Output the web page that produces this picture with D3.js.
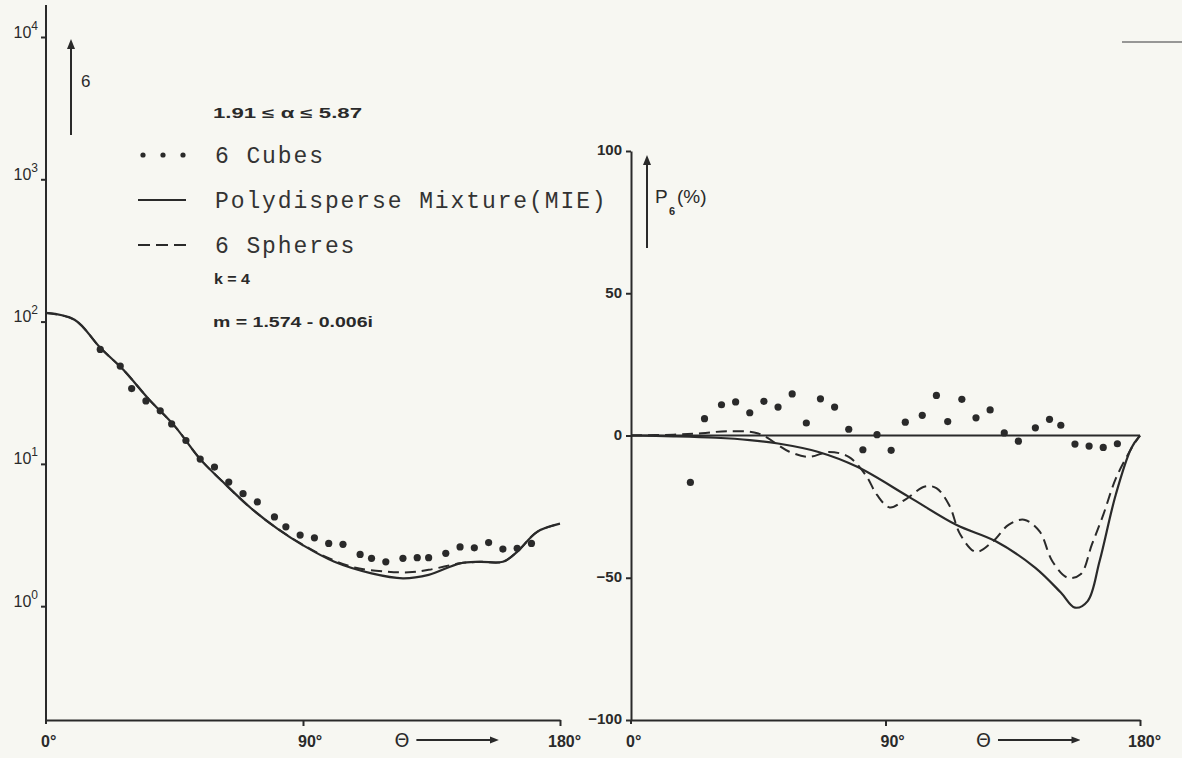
<!DOCTYPE html>
<html>
<head>
<meta charset="utf-8">
<script src="https://cdn.jsdelivr.net/npm/d3@7"></script>
<style>
    body { margin: 0; background: #f7f7f2; }
    svg { display: block; }
</style>
</head>
<body>
<div id="graph"></div>
<script>
// left panel: sigma (log scale) vs scattering angle
var leftMieAngles = [0, 10, 19, 27, 36, 45, 54, 62, 72, 81, 90, 101, 114, 125, 134, 145, 152, 160, 165, 172, 180];
var leftMie = [115, 103, 65.5, 46, 28.5, 18.5, 10.8, 7.45, 4.84, 3.51, 2.68, 2.05, 1.70, 1.57, 1.66, 2.0, 2.05, 2.05, 2.41, 3.33, 3.8];
var leftSphereAngles = [0, 10, 19, 27, 36, 45, 54, 62, 72, 81, 90, 98, 108, 119, 127, 134, 145, 152, 160, 165, 172, 180];
var leftSpheres = [115, 103, 65.5, 46, 28.5, 18.5, 10.8, 7.45, 4.84, 3.51, 2.7, 2.22, 1.87, 1.75, 1.73, 1.80, 2.0, 2.05, 2.05, 2.41, 3.33, 3.8];
var leftCubeAngles = [19, 26, 30, 35, 40, 44, 49, 54, 59, 64, 69, 74, 80, 84, 89, 94, 99, 104, 110, 114, 119, 125, 130, 134, 140, 145, 150, 155, 160, 165, 170];
var leftCubes = [63.7, 48.7, 33.8, 27.7, 23.6, 19.1, 14.6, 10.8, 9.49, 7.45, 6.17, 5.40, 4.24, 3.61, 3.16, 3.02, 2.76, 2.72, 2.31, 2.17, 2.05, 2.17, 2.19, 2.19, 2.35, 2.61, 2.57, 2.80, 2.52, 2.55, 2.76];

// right panel: polarization P (%) vs scattering angle
var rightMieAngles = [0, 15, 30, 42, 52, 66, 80, 98, 115, 129, 143, 152, 157, 161.5, 165.7, 171.4, 176.9, 180];
var rightMie = [0, -0.3, -0.8, -1.6, -2.8, -5.7, -11, -21.4, -31.4, -37.2, -46.5, -55.2, -60.5, -58.2, -44.2, -20.9, -4.5, 0];
var rightSphereAngles = [0, 15, 25, 34, 45, 56, 63, 70, 77, 83, 87, 91.5, 97, 104, 108, 112.5, 116.5, 122, 128, 133.5, 139, 144.5, 149, 154.5, 159, 163, 167, 171.5, 177, 180];
var rightSpheres = [0, 0.3, 0.8, 1.5, 0.7, -5.7, -7.5, -5.8, -7.5, -13.9, -20.9, -25.3, -22.5, -17.9, -18.5, -24.4, -34.9, -40.9, -37.2, -31.4, -29.6, -33.7, -44.2, -50, -48.8, -38.3, -27.9, -15, -4.5, 0];
var rightCubeAngles = [21, 26, 32, 37, 42, 47, 52, 57, 62, 67, 72, 77, 82, 87, 92, 97, 103, 108, 112, 117, 122, 127, 132, 137, 143, 148, 152, 157, 162, 167, 172];
var rightCubes = [-16.5, 5.9, 10.8, 11.8, 8.0, 12.0, 10.0, 14.6, 4.4, 12.9, 10.0, 2.2, -5.0, 0.3, -5.2, 4.7, 7.1, 14.1, 4.9, 12.7, 6.2, 9.0, 0.9, -2.0, 2.7, 5.7, 3.6, -3.0, -3.7, -4.2, -2.9];

var leftTicks = [1, 10, 100, 1000, 10000];
var leftTickExp = ["0", "1", "2", "3", "4"];
var rightTicks = [-100, -50, 0, 50, 100];
var angleTicks = [0, 90, 180];
var angleLabels = ["0°", "90°", "180°"];

var legendLabels = ["6 Cubes", "Polydisperse Mixture(MIE)", "6 Spheres"];

var width = 1182, height = 758;
var ink = "#2a2a2a";

var svg = d3.select("#graph").append("svg")
    .attr("width", width)
    .attr("height", height);

svg.append("rect").attr("width", width).attr("height", height).attr("fill", "#f7f7f2");

var defs = svg.append("defs");
defs.append("marker")
    .attr("id", "head")
    .attr("viewBox", "0 0 10 10")
    .attr("refX", 5).attr("refY", 5)
    .attr("markerWidth", 5).attr("markerHeight", 5)
    .attr("orient", "auto")
    .append("path")
    .attr("d", "M0,1L10,5L0,9Z")
    .attr("fill", ink);

var xL = d3.scaleLinear().domain([0, 180]).range([46, 560]);
var yL = d3.scaleLog().domain([Math.pow(10, -0.8), 10000]).range([720, 37]);
var xR = d3.scaleLinear().domain([0, 180]).range([631, 1140]);
var yR = d3.scaleLinear().domain([-100, 100]).range([720, 151]);

function styleAxis(g) {
    g.selectAll("path, line").attr("stroke", ink).attr("stroke-width", 2);
    g.selectAll("text").attr("fill", ink);
}

// ---- left panel axes
var gLy = svg.append("g")
    .attr("transform", "translate(" + xL(0) + ",0)")
    .call(d3.axisLeft(yL).tickValues(leftTicks).tickSize(5).tickSizeOuter(0).tickPadding(3).tickFormat(function () { return "10"; }));
gLy.select(".domain").remove();
gLy.append("line").attr("x1", 0).attr("x2", 0).attr("y1", 5).attr("y2", 724);
gLy.selectAll(".tick text")
    .attr("dy", "0")
    .attr("font-family", "Liberation Sans, Arial, sans-serif")
    .attr("font-size", 16)
    .each(function (d, i) {
        d3.select(this).append("tspan")
            .attr("dy", -8)
            .attr("font-size", 12)
            .text(leftTickExp[i]);
    });
styleAxis(gLy);

var gLx = svg.append("g")
    .attr("transform", "translate(0,720)")
    .call(d3.axisBottom(xL).tickValues([90, 180]).tickSize(6).tickSizeOuter(0).tickFormat(""));
styleAxis(gLx);

// ---- right panel axes
var gRy = svg.append("g")
    .attr("transform", "translate(" + xR(0) + ",0)")
    .call(d3.axisLeft(yR).tickValues(rightTicks).tickSize(5).tickSizeOuter(0).tickPadding(4));
gRy.selectAll(".tick text")
    .attr("dy", "0.25em")
    .attr("font-family", "Liberation Sans, Arial, sans-serif")
    .attr("font-weight", "bold")
    .attr("font-size", 15);
styleAxis(gRy);
gRy.append("line").attr("x1", 0).attr("x2", 0).attr("y1", yR(-100)).attr("y2", 724).attr("stroke", ink).attr("stroke-width", 2);

var gRx = svg.append("g")
    .attr("transform", "translate(0,720)")
    .call(d3.axisBottom(xR).tickValues([90, 180]).tickSize(6).tickSizeOuter(0).tickFormat(""));
styleAxis(gRx);

// angle labels under both panels
[xL, xR].forEach(function (x) {
    angleTicks.forEach(function (a, i) {
        svg.append("text")
            .attr("x", x(a) - (i == 2 ? 12 : 5))
            .attr("y", 747)
            .attr("font-family", "Liberation Sans, Arial, sans-serif")
            .attr("font-weight", "bold")
            .attr("font-size", 16)
            .attr("fill", ink)
            .text(angleLabels[i]);
    });
    svg.append("text")
        .attr("x", x(122))
        .attr("y", 747)
        .attr("font-family", "DejaVu Sans, sans-serif")
        .attr("font-size", 19)
        .attr("fill", ink)
        .text("Θ");
    svg.append("line")
        .attr("x1", x(122) + 22).attr("x2", x(122) + 100)
        .attr("y1", 740).attr("y2", 740)
        .attr("stroke", ink).attr("stroke-width", 1.8)
        .attr("marker-end", "url(#head)");
});

// ---- curves
function drawLine(x, y, angles, values, dashed) {
    var line = d3.line()
        .curve(d3.curveCatmullRom.alpha(0.5))
        .x(function (d) { return x(d[0]); })
        .y(function (d) { return y(d[1]); });
    svg.append("path")
        .datum(d3.zip(angles, values))
        .attr("d", line)
        .attr("fill", "none")
        .attr("stroke", ink)
        .attr("stroke-width", dashed ? 2 : 2.2)
        .attr("stroke-dasharray", dashed ? "11,6" : null);
}
function drawDots(x, y, angles, values) {
    svg.append("g").selectAll("circle")
        .data(d3.zip(angles, values))
        .enter().append("circle")
        .attr("cx", function (d) { return x(d[0]); })
        .attr("cy", function (d) { return y(d[1]); })
        .attr("r", 3.6)
        .attr("fill", ink);
}

drawLine(xL, yL, leftMieAngles, leftMie, false);
drawLine(xL, yL, leftSphereAngles, leftSpheres, true);
drawDots(xL, yL, leftCubeAngles, leftCubes);

// zero reference line
svg.append("line")
    .attr("x1", xR(0)).attr("x2", xR(180))
    .attr("y1", yR(0)).attr("y2", yR(0))
    .attr("stroke", ink).attr("stroke-width", 2.2);
drawLine(xR, yR, rightMieAngles, rightMie, false);
drawLine(xR, yR, rightSphereAngles, rightSpheres, true);
drawDots(xR, yR, rightCubeAngles, rightCubes);

// ---- y labels with arrows
svg.append("line")
    .attr("x1", 71).attr("x2", 71).attr("y1", 135).attr("y2", 44)
    .attr("stroke", ink).attr("stroke-width", 2)
    .attr("marker-end", "url(#head)");
svg.append("text")
    .attr("x", 81).attr("y", 87)
    .attr("font-family", "Liberation Sans, Arial, sans-serif")
    .attr("font-size", 17).attr("fill", ink)
    .text("6");

svg.append("line")
    .attr("x1", 647).attr("x2", 647).attr("y1", 248).attr("y2", 160)
    .attr("stroke", ink).attr("stroke-width", 2)
    .attr("marker-end", "url(#head)");
svg.append("text")
    .attr("x", 655).attr("y", 203)
    .attr("font-family", "Liberation Sans, Arial, sans-serif")
    .attr("font-size", 19).attr("fill", ink)
    .text("P");
svg.append("text")
    .attr("x", 669).attr("y", 215)
    .attr("font-family", "Liberation Sans, Arial, sans-serif")
    .attr("font-size", 11).attr("font-weight", "bold").attr("fill", ink)
    .text("6");
svg.append("text")
    .attr("x", 677).attr("y", 203)
    .attr("font-family", "Liberation Sans, Arial, sans-serif")
    .attr("font-size", 19).attr("fill", ink)
    .text("(%)");

// ---- legend
var legendRows = [155, 200, 245];
svg.append("g").selectAll("circle")
    .data([143, 163, 183])
    .enter().append("circle")
    .attr("cx", function (d) { return d; })
    .attr("cy", legendRows[0])
    .attr("r", 2.6)
    .attr("fill", ink);
svg.append("line")
    .attr("x1", 138).attr("x2", 186).attr("y1", legendRows[1]).attr("y2", legendRows[1])
    .attr("stroke", ink).attr("stroke-width", 2.2);
svg.append("line")
    .attr("x1", 138).attr("x2", 186).attr("y1", legendRows[2]).attr("y2", legendRows[2])
    .attr("stroke", ink).attr("stroke-width", 2.2)
    .attr("stroke-dasharray", "12,6");
legendLabels.forEach(function (t, i) {
    svg.append("text")
        .attr("x", 215).attr("y", legendRows[i] + 8)
        .attr("font-family", "Liberation Mono, Courier New, monospace")
        .attr("font-size", 23)
        .attr("letter-spacing", 1.9)
        .attr("fill", "#333")
        .text(t);
});

var notes = [
    { t: "1.91 ≤ α ≤ 5.87", x: 213, y: 118, w: 149 },
    { t: "k = 4", x: 214, y: 284, w: 36 },
    { t: "m = 1.574 - 0.006i", x: 213, y: 327, w: 160 }
];
notes.forEach(function (n) {
    svg.append("text")
        .attr("x", n.x).attr("y", n.y)
        .attr("font-family", "Liberation Sans, Arial, sans-serif")
        .attr("font-weight", "bold")
        .attr("font-size", 14)
        .attr("textLength", n.w)
        .attr("lengthAdjust", "spacingAndGlyphs")
        .attr("fill", ink)
        .text(n.t);
});

// scan stroke at top right
svg.append("line")
    .attr("x1", 1122).attr("x2", 1182).attr("y1", 42).attr("y2", 42)
    .attr("stroke", "#777").attr("stroke-width", 1.5);
</script>
</body>
</html>
